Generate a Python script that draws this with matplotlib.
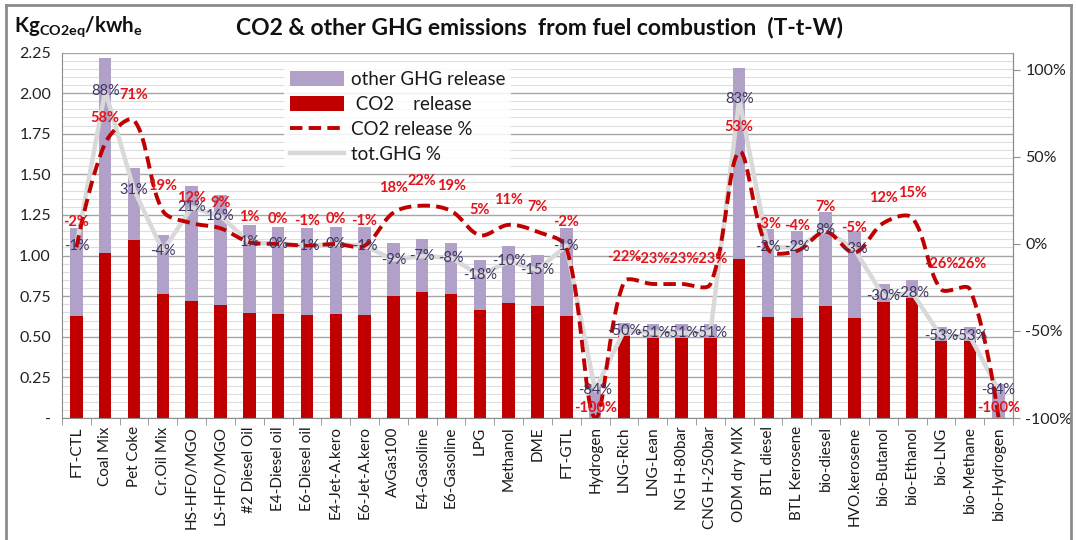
import matplotlib
matplotlib.use('Agg')
import matplotlib.pyplot as plt
import numpy as np
from matplotlib.patches import Patch
from matplotlib.lines import Line2D
from matplotlib.ticker import MultipleLocator, FixedLocator, FuncFormatter

plt.rcParams['font.family'] = ['Lato', 'DejaVu Sans']

categories = ["FT-CTL", "Coal Mix", "Pet Coke", "Cr.Oil Mix", "HS-HFO/MGO", "LS-HFO/MGO",
              "#2 Diesel Oil", "E4-Diesel oil", "E6-Diesel oil", "E4-Jet-A.kero", "E6-Jet-A.kero",
              "AvGas100", "E4-Gasoline", "E6-Gasoline", "LPG", "Methanol", "DME", "FT-GTL",
              "Hydrogen", "LNG-Rich", "LNG-Lean", "NG H-80bar", "CNG H-250bar", "ODM dry MIX",
              "BTL diesel", "BTL Kerosene", "bio-diesel", "HVO.kerosene", "bio-Butanol",
              "bio-Ethanol", "bio-LNG", "bio-Methane", "bio-Hydrogen"]

co2_release = [0.628, 1.014, 1.096, 0.762, 0.722, 0.694, 0.646, 0.640, 0.634, 0.640, 0.634,
               0.753, 0.776, 0.762, 0.667, 0.708, 0.688, 0.626, 0.0, 0.505, 0.494, 0.494,
               0.494, 0.979, 0.620, 0.614, 0.688, 0.614, 0.716, 0.737, 0.476, 0.476, 0.0]

total_release = [1.168, 2.218, 1.541, 1.127, 1.428, 1.373, 1.188, 1.178, 1.168, 1.178, 1.174,
                 1.076, 1.102, 1.080, 0.971, 1.059, 1.004, 1.168, 0.21, 0.583, 0.579, 0.579,
                 0.579, 2.157, 1.162, 1.153, 1.268, 1.149, 0.823, 0.850, 0.558, 0.558, 0.21]

co2_pct = [-2, 58, 71, 19, 12, 9, 1, 0, -1, 0, -1, 18, 22, 19, 5, 11, 7, -2, -100,
           -22, -23, -23, -23, 53, -3, -4, 7, -5, 12, 15, -26, -26, -100]

ghg_pct = [-1, 88, 31, -4, 21, 16, 1, 0, -1, 0, -1, -9, -7, -8, -18, -10, -15, -1, -84,
           -50, -51, -51, -51, 83, -2, -2, 8, -3, -30, -28, -53, -53, -84]

PURPLE = '#b1a0c7'
RED = '#c00000'
LABEL_RED = '#e2141b'
GRAY = '#d9d9d9'
LABEL_GRAY = '#3d3560'

W, H = 1076, 540
fig = plt.figure(figsize=(W / 100, H / 100), dpi=100)
AX_L, AX_R, AX_T, AX_B = 62, 1013, 52.5, 418
ax = fig.add_axes([AX_L / W, 1 - AX_B / H, (AX_R - AX_L) / W, (AX_B - AX_T) / H])
ax2 = ax.twinx()

x = np.arange(len(categories))
co2 = np.array(co2_release)
tot = np.array(total_release)
other = tot - co2

bw = 0.43
ax.bar(x, co2, width=bw, color=RED, zorder=2)
ax.bar(x, other, bottom=co2, width=bw, color=PURPLE, zorder=2)

ax.set_xlim(-0.5, len(categories) - 0.5)
ax.set_ylim(0, 2.25)
ax.yaxis.set_major_locator(MultipleLocator(0.25))
ax.yaxis.set_minor_locator(MultipleLocator(0.05))
ax.yaxis.set_major_formatter(FuncFormatter(lambda v, p: '-' if abs(v) < 1e-9 else f'{v:.2f}'))
ax.grid(True, which='major', axis='y', color='#a6a6a6', lw=1.0, zorder=0)
ax.grid(True, which='minor', axis='y', color='#dedede', lw=0.8, zorder=0)
ax.set_axisbelow(True)

ax.set_xticks(x)
ax.set_xticklabels(categories, rotation=90, fontsize=11, color='#1a1a1a')
ax.xaxis.set_minor_locator(FixedLocator(np.arange(-0.5, len(categories), 1.0)))
ax.tick_params(axis='x', which='major', length=0, pad=6)
ax.tick_params(axis='x', which='minor', length=5, color='#8c8c8c', direction='out')
ax.tick_params(axis='y', which='both', length=0, labelsize=11.5, labelcolor='#222222', pad=8)

for s in ['left', 'right', 'bottom']:
    ax.spines[s].set_color('#8c8c8c')
ax.spines['top'].set_visible(False)
for s in ['left', 'right', 'bottom', 'top']:
    ax2.spines[s].set_visible(False)
ax2.spines['right'].set_visible(True)
ax2.spines['right'].set_color('#8c8c8c')

# right axis (percent)
Y2MIN, Y2MAX = -1.0, 1.1
ax2.set_ylim(Y2MIN, Y2MAX)
ax2.set_yticks([-1.0, -0.5, 0.0, 0.5, 1.0])
ax2.yaxis.set_major_formatter(FuncFormatter(lambda v, p: f'{v * 100:.0f}%'))
ax2.tick_params(axis='y', length=5, color='#8c8c8c', labelsize=11.5, labelcolor='#222222', pad=4)

gp = np.array(ghg_pct) / 100.0
cp = np.array(co2_pct) / 100.0

# tot.GHG % line (straight segments)
ax2.plot(x, gp, color=GRAY, lw=3.2, zorder=3, solid_capstyle='round')


# CO2 release % line: Excel-like smoothed Bezier through the data points,
# control lengths scaled by neighbouring segment lengths in screen space
def smooth_path(xs, ys, n=24):
    sxp = (AX_R - AX_L) / (len(categories))          # px per category
    syp = (AX_B - AX_T) / (Y2MAX - Y2MIN)            # px per unit
    P = np.column_stack([xs * sxp, ys * syp])
    m = len(P)
    cout = np.zeros_like(P)
    cin = np.zeros_like(P)
    for i in range(m):
        if i == 0 or i == m - 1:
            cout[i] = P[i]
            cin[i] = P[i]
            continue
        T = P[i + 1] - P[i - 1]
        dp = np.linalg.norm(P[i] - P[i - 1])
        dn = np.linalg.norm(P[i + 1] - P[i])
        s = dp + dn
        cout[i] = P[i] + T * (1 / 3) * dn / s
        cin[i] = P[i] - T * (1 / 3) * dp / s
    t = np.linspace(0, 1, n, endpoint=False)[:, None]
    segs = []
    for i in range(m - 1):
        p0, p1, p2, p3 = P[i], cout[i], cin[i + 1], P[i + 1]
        segs.append((1 - t) ** 3 * p0 + 3 * (1 - t) ** 2 * t * p1 + 3 * (1 - t) * t ** 2 * p2 + t ** 3 * p3)
    segs.append(P[-1:])
    Q = np.vstack(segs)
    return Q[:, 0] / sxp, Q[:, 1] / syp


sx, sy = smooth_path(x.astype(float), cp)
ax2.plot(sx, sy, color=RED, lw=2.8, dashes=(3.2, 1.6), zorder=4, dash_capstyle='butt')

# data labels
for xi, v, p in zip(x, gp, ghg_pct):
    ax2.annotate(f'{p}%', (xi, v), xytext=(0, 0), textcoords='offset points',
                 ha='center', va='center', fontsize=10.5, color=LABEL_GRAY, zorder=6)
for xi, v, p in zip(x, cp, co2_pct):
    off = 7.5 if p <= -99 else 18
    ax2.annotate(f'{p}%', (xi, v), xytext=(0, off), textcoords='offset points',
                 ha='center', va='center', fontsize=10.5, color=LABEL_RED,
                 fontweight='bold', zorder=6)

# legend
handles = [Patch(facecolor=PURPLE, edgecolor='none'),
           Patch(facecolor=RED, edgecolor='none'),
           Line2D([], [], color=RED, lw=2.8, dashes=(3.2, 1.6)),
           Line2D([], [], color=GRAY, lw=3.2)]
labels = ['other GHG release', ' CO2    release', 'CO2 release %', 'tot.GHG %']
leg = ax2.legend(handles, labels, loc='upper left', bbox_to_anchor=(275 / W, 1 - 56 / H),
                 bbox_transform=fig.transFigure, fontsize=13.5, frameon=True,
                 facecolor='white', edgecolor='none', framealpha=0.85,
                 handlelength=2.9, handleheight=0.8, handletextpad=0.35,
                 labelspacing=0.42, borderpad=0.3)
leg.set_zorder(10)
for t in leg.get_texts():
    t.set_color('#1a1a1a')

# titles
fig.text(540 / W, 1 - 28 / H, 'CO2 & other GHG emissions  from fuel combustion  (T-t-W)',
         ha='center', va='center', fontsize=16.5, fontweight='bold', color='#111111')
fig.text(14 / W, 1 - 27 / H, r'Kg$_{\mathregular{CO2eq}}$/kwh$_{\mathregular{e}}$',
         ha='left', va='center', fontsize=14.8, fontweight='bold', color='#111111')

# outer border
for xs_, ys_ in [((6 / W, 6 / W), (0, 1 - 5 / H)), ((6 / W, 1071 / W), (1 - 5 / H, 1 - 5 / H)),
                 ((1071 / W, 1071 / W), (0, 1 - 5 / H))]:
    fig.add_artist(Line2D(xs_, ys_, color='#8c8c8c', lw=2, transform=fig.transFigure))

fig.savefig('out.png', dpi=100)
